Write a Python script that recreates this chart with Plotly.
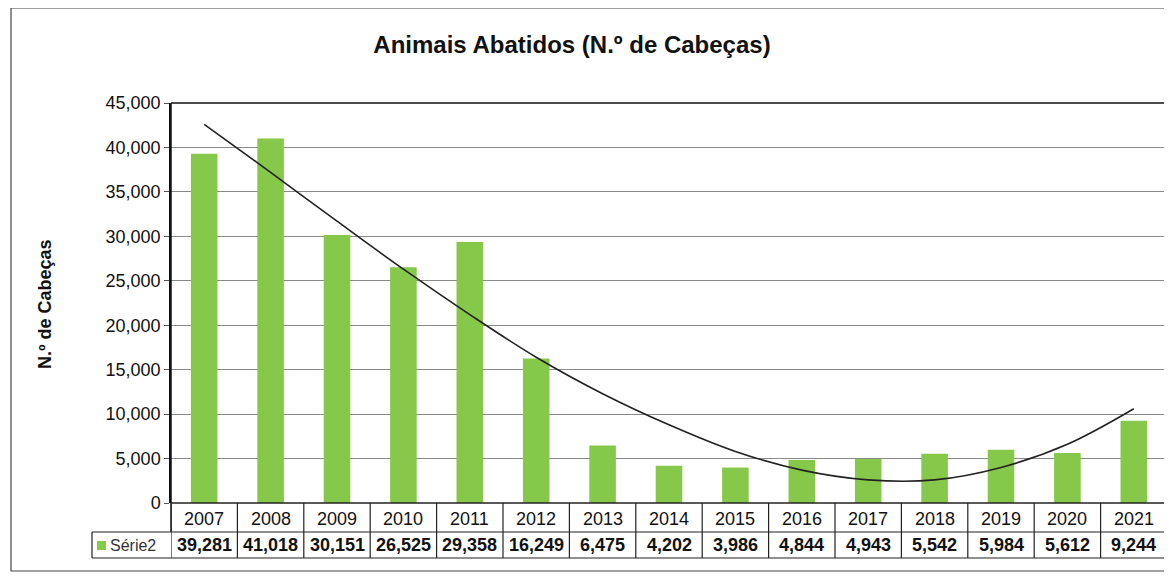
import plotly.graph_objects as go

years = ["2007", "2008", "2009", "2010", "2011", "2012", "2013", "2014",
         "2015", "2016", "2017", "2018", "2019", "2020", "2021"]
values = [39281, 41018, 30151, 26525, 29358, 16249, 6475, 4202,
          3986, 4844, 4943, 5542, 5984, 5612, 9244]
# trendline (polynomial trend drawn by the spreadsheet)
trend = [42600, 37200, 31700, 26300, 21200, 16400, 12300, 8800,
         5800, 3700, 2600, 2600, 4000, 6600, 10600]
series_name = "Série2"
title_text = "Animais Abatidos (N.º de Cabeças)"
y_title = "N.º de Cabeças"
y_ticks = [0, 5000, 10000, 15000, 20000, 25000, 30000, 35000, 40000, 45000]

OFF = 8  # page body margin
W, H = 1172 - OFF, 580 - OFF
L, R, T, B = 171, 1167, 103, 503
pw, ph = R - L, B - T

def px(x):
    return (x - L) / pw

def py(y):
    return (B - y) / ph

FONT = "Liberation Sans, Arial, sans-serif"
GREEN = "#86c84a"

n = len(years)
xs = list(range(n))

fig = go.Figure()
fig.add_trace(go.Bar(x=xs, y=values, marker=dict(color=GREEN, line=dict(width=0)),
                     width=0.4, name=series_name, showlegend=False))
fig.add_trace(go.Scatter(x=xs, y=trend, mode="lines", line=dict(color="#222222", width=1.6, shape="spline"),
                         showlegend=False, hoverinfo="skip"))

shapes = []
shapes.append(dict(type="rect", xref="paper", yref="paper", x0=px(11), x1=px(1175), y0=py(8), y1=py(571),
                   line=dict(color="#444444", width=1.2), layer="below"))
shapes.append(dict(type="line", xref="paper", yref="paper", x0=0, x1=1, y0=1, y1=1, line=dict(color="#111", width=1.5)))
shapes.append(dict(type="line", xref="paper", yref="paper", x0=1, x1=1, y0=0, y1=1, line=dict(color="#111", width=1.5)))
shapes.append(dict(type="line", xref="paper", yref="paper", x0=0, x1=0, y0=py(532), y1=1, line=dict(color="#111", width=1.5)))
row1 = py(532)
row2 = py(558)
for k in range(n + 1):
    shapes.append(dict(type="line", xref="x", yref="paper", x0=k - 0.5, x1=k - 0.5, y0=row2, y1=0,
                       line=dict(color="#222", width=1.2)))
shapes.append(dict(type="line", xref="paper", yref="paper", x0=0, x1=1, y0=0, y1=0, line=dict(color="#222", width=1.5)))
shapes.append(dict(type="line", xref="paper", yref="paper", x0=px(92), x1=1, y0=row1, y1=row1, line=dict(color="#222", width=1.2)))
shapes.append(dict(type="line", xref="paper", yref="paper", x0=px(92), x1=1, y0=row2, y1=row2, line=dict(color="#222", width=1.2)))
shapes.append(dict(type="line", xref="paper", yref="paper", x0=px(92), x1=px(92), y0=row2, y1=row1, line=dict(color="#222", width=1.2)))
shapes.append(dict(type="rect", xref="paper", yref="paper", x0=px(97), x1=px(106), y0=py(550), y1=py(541),
                   fillcolor=GREEN, line=dict(width=0)))

annotations = []
for i, (yr, v) in enumerate(zip(years, values)):
    annotations.append(dict(x=i, y=py(519), xref="x", yref="paper", text=yr, showarrow=False,
                            font=dict(family=FONT, size=18, color="#111"), xanchor="center", yanchor="middle"))
    annotations.append(dict(x=i, y=py(545), xref="x", yref="paper", text="<b>" + f"{v:,}" + "</b>", showarrow=False,
                            font=dict(family=FONT, size=18, color="#111"), xanchor="center", yanchor="middle"))
annotations.append(dict(x=px(108), y=py(545), xref="paper", yref="paper", text=series_name, showarrow=False,
                        font=dict(family=FONT, size=16, color="#333"), xanchor="left", yanchor="middle"))
annotations.append(dict(x=px(45), y=py(304), xref="paper", yref="paper", text="<b>" + y_title + "</b>",
                        textangle=-90, showarrow=False, font=dict(family=FONT, size=18, color="#111"),
                        xanchor="center", yanchor="middle"))

fig.update_layout(
    width=W, height=H,
    margin=dict(l=L - OFF, r=W - (R - OFF), t=T - OFF, b=H - (B - OFF)),
    paper_bgcolor="white", plot_bgcolor="white",
    title=dict(text="<b>" + title_text + "</b>", x=px(572), xref="paper", xanchor="center",
               y=1 - (45 - OFF) / H, yanchor="middle", font=dict(family=FONT, size=24, color="#111")),
    xaxis=dict(range=[-0.5, n - 0.5], showticklabels=False, showgrid=False, zeroline=False,
               showline=False, ticks=""),
    yaxis=dict(range=[0, 45000], tickvals=y_ticks, tickformat=",", showgrid=True, gridcolor="#8a8a8a",
               gridwidth=1, zeroline=False, showline=True, linecolor="#111", linewidth=1.5,
               ticks="outside", ticklen=5, tickcolor="#555",
               tickfont=dict(family=FONT, size=18, color="#111")),
    shapes=shapes, annotations=annotations,
    bargap=0.6,
)

fig.write_html("out.html")
